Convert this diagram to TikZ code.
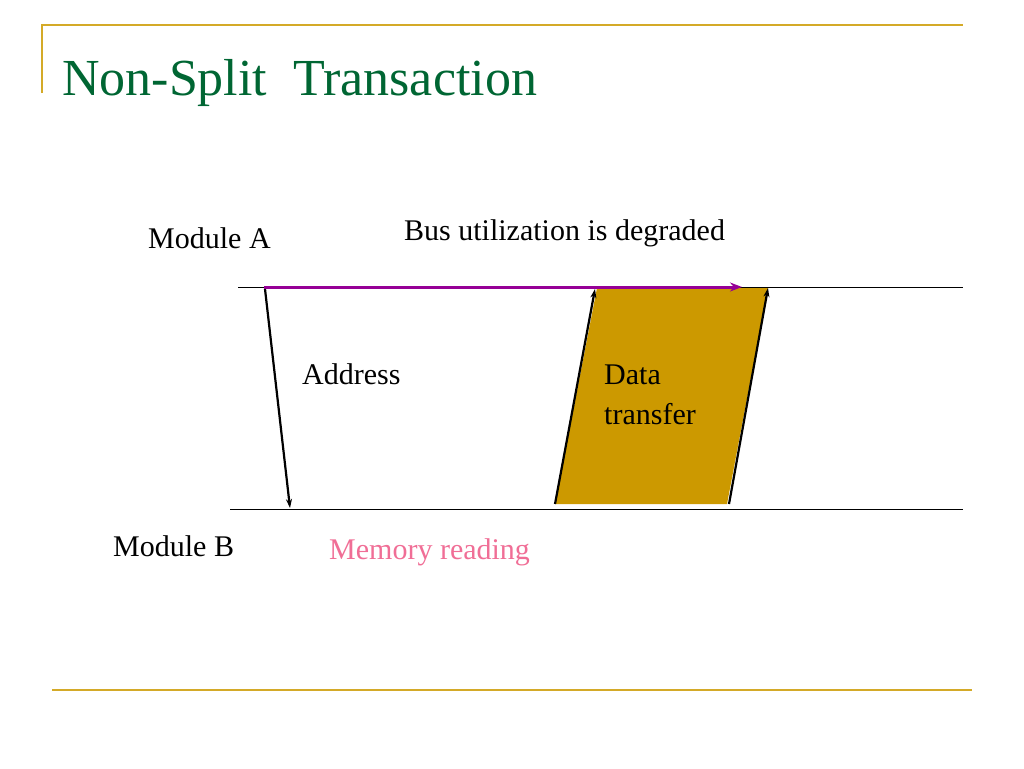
\documentclass[tikz,border=0pt]{standalone}
\usepackage{fontspec}
\setmainfont{Liberation Serif}
\begin{document}
\begin{tikzpicture}[x=1pt,y=-1pt,
  gold/.style={draw={rgb,255:red,212;green,170;blue,40},line width=2pt},
  lbl/.style={anchor=base west,inner sep=0pt,font=\fontsize{30}{36}\selectfont},
  sig/.style={line width=2.2pt,-{Stealth[length=9pt,width=6pt]}}]
\useasboundingbox (0,0) rectangle (1024,768);
\usetikzlibrary{arrows.meta}
\draw[gold] (42,93) -- (42,25) -- (963,25);
\draw[gold] (52,690) -- (972,690);
\node[anchor=base west,inner sep=0pt,text={rgb,255:red,0;green,102;blue,51},font=\fontsize{52}{60}\selectfont] (title) at (62,95) {Non-Split\ \ Transaction};
\coordinate (tA) at (238,287); \coordinate (tB) at (963,287);
\coordinate (bA) at (230,509); \coordinate (bB) at (963,509);
\draw[line width=0.8pt] (tA) -- (tB);
\draw[line width=0.8pt] (bA) -- (bB);
\coordinate (p1) at (555,504); \coordinate (p2) at (727,504);
\coordinate (p3) at (768,288); \coordinate (p4) at (597,288);
\fill[fill={rgb,255:red,204;green,153;blue,0}] (p1) -- (p2) -- (p3) -- (p4) -- cycle;
\draw[sig] (p1) -- (595,289);
\draw[sig] (729,504) -- (p3);
\coordinate (a0) at (264,287); \coordinate (a1) at (742,287); \coordinate (a2) at (290,508);
\draw[line width=3pt,draw={rgb,255:red,150;green,0;blue,150},-{Stealth[length=12pt,width=9pt]}] (a0) -- (a1);
\draw[sig] (265,289) -- (a2);
\node[lbl] (ma) at (148,248) {Module A};
\node[lbl] (bus) at (404,240) {Bus utilization is degraded};
\node[lbl] (addr) at (302,384) {Address};
\node[lbl] (d1) at (604,384) {Data};
\node[lbl] (d2) at (604,424) {transfer};
\node[lbl] (mb) at (113,556) {Module B};
\node[lbl,text={rgb,255:red,240;green,110;blue,150}] (mr) at (329,559) {Memory reading};
\end{tikzpicture}
\end{document}
